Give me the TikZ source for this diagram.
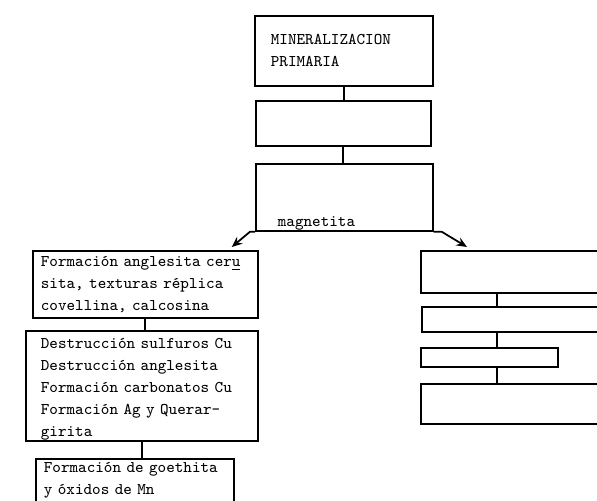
\documentclass[tikz,border=0pt]{standalone}
\usepackage{fontspec}
\usetikzlibrary{arrows.meta}
\begin{document}
\begin{tikzpicture}[x=0.02cm,y=-0.02cm,
  caja/.style={draw, line width=1pt, anchor=north west, align=left,
    inner xsep=0.16cm, inner ysep=0pt,
    font=\ttfamily\fontsize{9.3}{12.5}\selectfont},
  flecha/.style={line width=1pt, -{Stealth[length=6pt,width=5pt]}}]
\useasboundingbox (0,0) rectangle (597,500);
\clip (0,0) rectangle (597,500);
% columna central
\node[caja, inner xsep=0.32cm, text width=2.92cm, minimum width=3.56cm, minimum height=1.40cm] (prim) at (254,15) {MINERALIZACION\\PRIMARIA};
\node[caja, text width=3.18cm, minimum width=3.50cm, minimum height=0.90cm] (oxi) at (255,100) {};
\node[caja, text width=3.22cm, minimum width=3.54cm, minimum height=1.34cm] (form) at (255,163) {\strut\\\strut\\[1pt]\hphantom{y }magnetita};
\draw[line width=1pt] (prim.south) -- (prim.south |- oxi.north);
\draw[line width=1pt] (oxi.south) -- (oxi.south |- form.north);
% rama izquierda
\node[caja, text width=4.18cm, minimum width=4.50cm, minimum height=1.34cm] (angl) at (32,250) {Formación anglesita cer\underline{u}\\sita, texturas réplica\\covellina, calcosina};
\node[caja, inner xsep=0.3cm, text width=4.04cm, minimum width=4.64cm, minimum height=2.20cm] (dest) at (25,330) {\rule{0pt}{9.5pt}Destrucción sulfuros Cu\\Destrucción anglesita\\Formación carbonatos Cu\\Formación Ag y Querar-\\girita};
\node[caja, text width=3.64cm, minimum width=3.96cm, minimum height=1.24cm] (goet) at (35,458) {Formación de goethita\\y óxidos de Mn\\\mbox{}};
\draw[line width=1pt] (angl.south) -- (angl.south |- dest.north);
\draw[line width=1pt] (dest.south) -- (dest.south |- goet.north);
% rama derecha
\node[caja, minimum width=4.00cm, minimum height=0.84cm] (d1) at (420,250) {};
\node[caja, minimum width=4.00cm, minimum height=0.50cm] (d2) at (421,306) {};
\node[caja, minimum width=2.74cm, minimum height=0.38cm] (d3) at (420,347) {};
\node[caja, minimum width=4.00cm, minimum height=0.80cm] (d4) at (420,383) {};
\draw[line width=1pt] ([xshift=1.54cm]d1.south west) -- ([xshift=1.54cm]d1.south west |- d2.north);
\draw[line width=1pt] ([xshift=1.52cm]d2.south west) -- ([xshift=1.52cm]d2.south west |- d3.north);
\draw[line width=1pt] ([xshift=1.54cm]d3.south west) -- ([xshift=1.54cm]d3.south west |- d4.north);
% flechas
\draw[flecha] (form.south west) -- ++(-5,0) -- ([xshift=-0.54cm,yshift=0.06cm]angl.north east);
\draw[flecha] (form.south east) -- ++(8,0) -- ([xshift=0.94cm,yshift=0.06cm]d1.north west);
\end{tikzpicture}
\end{document}
